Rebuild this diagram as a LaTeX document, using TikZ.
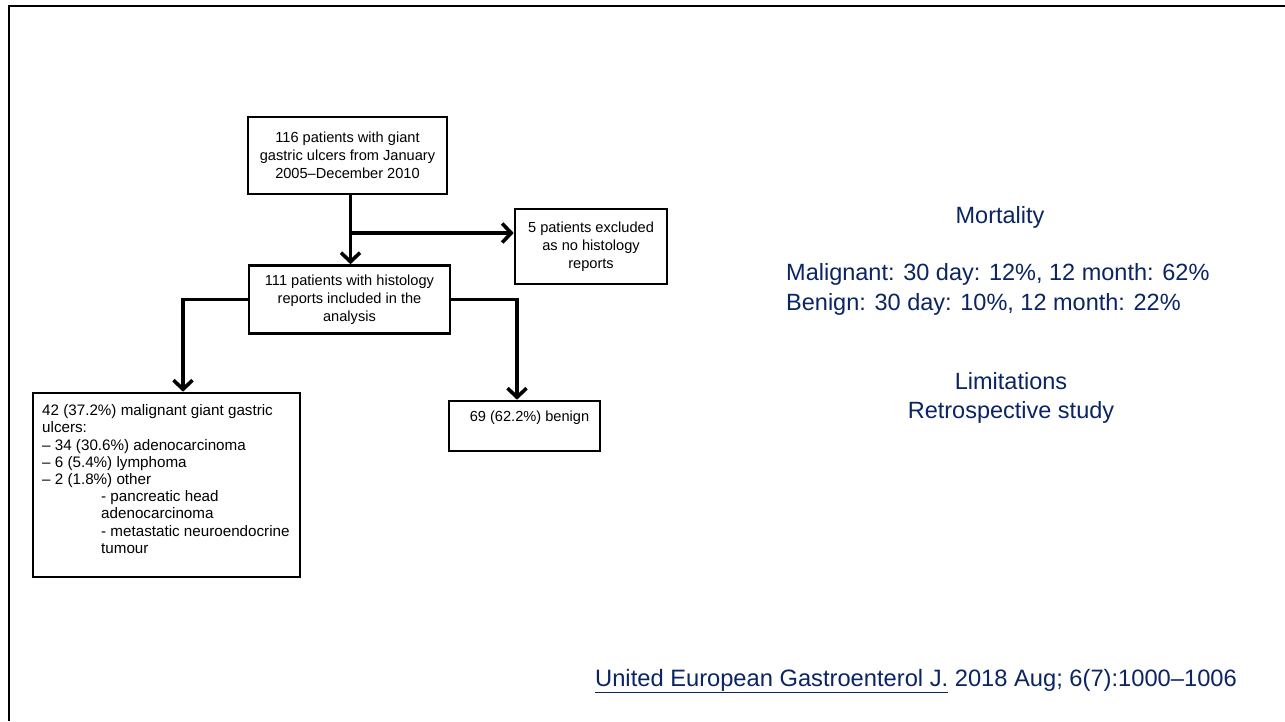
\documentclass[tikz,border=0pt]{standalone}
\usepackage{fontspec}
\setmainfont{Liberation Sans}
\usetikzlibrary{arrows.meta}
\definecolor{navy}{RGB}{10,36,100}
\begin{document}
\begin{tikzpicture}[x=1pt,y=-1pt,
  flowbox/.style={draw=black, line width=2.6pt, rectangle, inner sep=0pt, align=center,
    font=\fontsize{14.6}{18}\selectfont},
  flowarrow/.style={line width=3.6pt, -{Straight Barb[length=9pt,width=19pt]}},
  bluetext/.style={text=navy, inner sep=0pt, font=\fontsize{23.5}{29.5}\selectfont}
]
\useasboundingbox (0,0) rectangle (1285,721);
\fill[white] (0,0) rectangle (1285,721);
\draw[line width=2.6pt] (9,721) -- (9,6) -- (1285,6);

\node[flowbox, minimum width=199pt, minimum height=77pt] (box1) at (347.5,155.5)
  {116 patients with giant\\gastric ulcers from January\\2005--December 2010};
\node[flowbox, minimum width=152pt, minimum height=75pt] (excl) at (591,246.5)
  {5 patients excluded\\as no histology\\reports};
\node[flowbox, minimum width=201pt, minimum height=68pt] (box2) at (349.5,299.5)
  {111 patients with histology\\reports included in the\\analysis};
\node[flowbox, minimum width=267pt, minimum height=184pt] (mal) at (166.5,485) {};
\node[anchor=north west, inner sep=0pt, align=left, font=\fontsize{15.2}{17.2}\selectfont] (maltext) at (42,404.5)
  {42 (37.2\%) malignant giant gastric\\
   ulcers:\\
   -- 34 (30.6\%) adenocarcinoma\\
   -- 6 (5.4\%) lymphoma\\
   -- 2 (1.8\%) other\\
   \hspace*{59pt}- pancreatic head\\
   \hspace*{59pt}adenocarcinoma\\
   \hspace*{59pt}- metastatic neuroendocrine\\
   \hspace*{59pt}tumour};
\node[flowbox, minimum width=151pt, minimum height=50pt] (ben) at (524.5,426) {};
\node[inner sep=0pt, font=\fontsize{14.6}{18}\selectfont] (bentext) at (529.5,418) {69 (62.2\%) benign};

\coordinate (m) at (350.5,233);
\coordinate (mlt) at (183,0);
\coordinate (brt) at (517,0);
\draw[flowarrow] (m |- box1.south) -- (m |- box2.north);
\draw[flowarrow] (m) -- (m -| excl.west);
\draw[flowarrow] (box2.west) -| (mlt |- mal.north);
\draw[flowarrow] (box2.east) -| (brt |- ben.north);

\node[bluetext] (mort) at (1000,217) {Mortality};
\node[bluetext, anchor=west, align=left] (mortvals) at (786,289.5)
  {Malignant: 30 day: 12\%, 12 month: 62\%\\Benign: 30 day: 10\%, 12 month: 22\%};
\node[bluetext, align=center] (limits) at (1011,398)
  {Limitations\\Retrospective study};
\node[bluetext, anchor=west, font=\fontsize{23.7}{29.5}\selectfont] (cite) at (595,681)
  {\underline{United European Gastroenterol J.} 2018 Aug; 6(7):1000--1006};
\end{tikzpicture}
\end{document}
